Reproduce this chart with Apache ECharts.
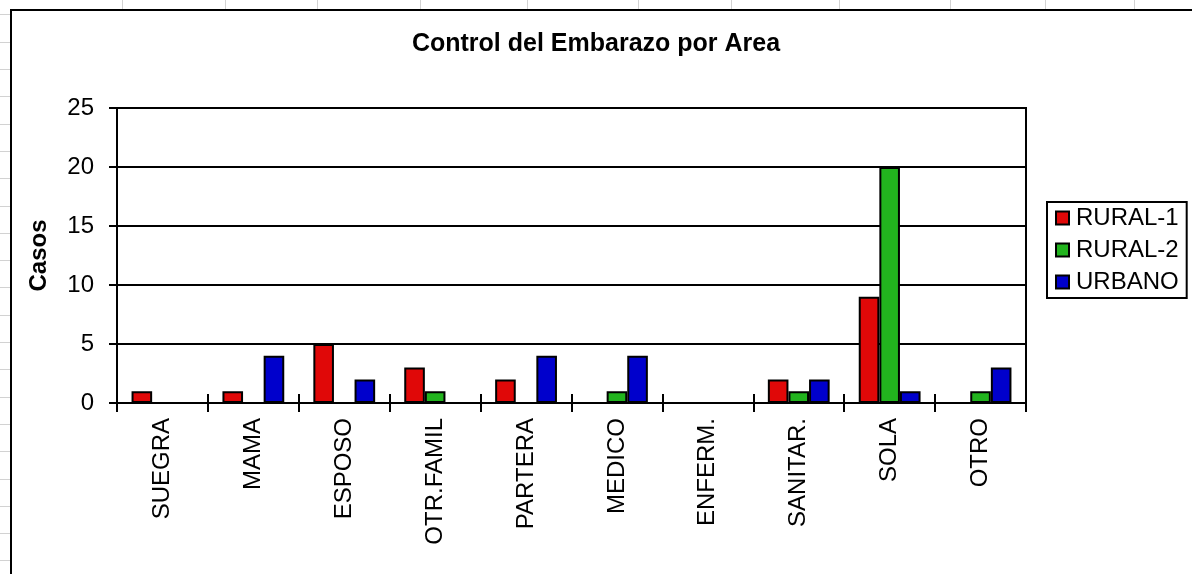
<!DOCTYPE html>
<html>
<head>
<meta charset="utf-8">
<title>Control del Embarazo por Area</title>
<script src="https://cdn.jsdelivr.net/npm/echarts@6/dist/echarts.min.js"></script>
<style>
  html, body { margin: 0; padding: 0; width: 1192px; height: 574px; overflow: hidden; background: #fff; }
  #sheet {
    position: absolute; left: 0; top: 0; width: 1192px; height: 574px;
    background-image: repeating-linear-gradient(to bottom,
      transparent 0, transparent 14.5px, #d2d2d2 14.5px, #d2d2d2 15.5px, transparent 15.5px, transparent 27.3px);
  }
  .col { position: absolute; top: 0; width: 1px; height: 10px; background: #d2d2d2; }
  #frame {
    position: absolute; left: 10px; top: 9px; width: 1300px; height: 700px;
    border: 2px solid #000; background: #fff;
  }
  #chart { position: absolute; left: 0; top: 0; width: 1192px; height: 574px; }
</style>
</head>
<body>
<div id="sheet"></div>
<div id="frame"></div>
<div id="chart"></div>
<script>
// Categories and case counts per area
const categories = ['SUEGRA', 'MAMA', 'ESPOSO', 'OTR.FAMIL', 'PARTERA', 'MEDICO', 'ENFERM.', 'SANITAR.', 'SOLA', 'OTRO'];
const rural1 = [1, 1, 5, 3, 2, 0, 0, 2, 9, 0];
const rural2 = [0, 0, 0, 1, 0, 1, 0, 1, 20, 1];
const urbano = [0, 4, 2, 0, 4, 4, 0, 2, 1, 3];
const seriesNames = ['RURAL-1', 'RURAL-2', 'URBANO'];
const yTicks = [0, 5, 10, 15, 20, 25];

// Spreadsheet column separators peeking above the chart frame
const sheetColumnsX = [122, 225, 317, 420, 527, 638, 731, 839, 950, 1045, 1134];
sheetColumnsX.forEach(function (x) {
  const d = document.createElement('div');
  d.className = 'col';
  d.style.left = x + 'px';
  document.getElementById('sheet').appendChild(d);
});

const FONT = "'Liberation Sans', Arial, Helvetica, sans-serif";
const colors = ['#E00808', '#22B41E', '#0000CC'];

const chart = echarts.init(document.getElementById('chart'), null, { renderer: 'canvas' });

function barSeries(name, data, color) {
  return {
    name: name,
    type: 'bar',
    data: data,
    xAxisIndex: 0,
    barGap: '0%',
    barCategoryGap: '32%',
    itemStyle: { color: color, borderColor: '#000', borderWidth: 2 },
    emphasis: { disabled: true }
  };
}

chart.setOption({
  animation: false,
  backgroundColor: 'transparent',
  textStyle: { fontFamily: FONT, color: '#000' },
  title: {
    text: 'Control del Embarazo por Area',
    left: 'center',
    top: 27,
    textStyle: { fontFamily: FONT, fontSize: 25, fontWeight: 'bold', color: '#000' }
  },
  legend: {
    data: seriesNames,
    orient: 'vertical',
    left: 1047,
    top: 202,
    padding: [4, 8, 4, 8],
    itemGap: 8,
    itemWidth: 13,
    itemHeight: 13,
    icon: 'rect',
    borderColor: '#000',
    borderWidth: 2,
    backgroundColor: '#fff',
    textStyle: { fontFamily: FONT, fontSize: 24, lineHeight: 24, color: '#000', padding: [0, 0, 0, 2] }
  },
  grid: {
    left: 117, right: 166, top: 108, bottom: 171,
    show: true, borderColor: '#000', borderWidth: 2, backgroundColor: 'transparent'
  },
  xAxis: [
    {
      type: 'category',
      data: categories,
      position: 'bottom',
      axisLine: { show: true, lineStyle: { color: '#000', width: 2 } },
      axisTick: { show: true, interval: 0, length: 9, lineStyle: { color: '#000', width: 2 } },
      axisLabel: { interval: 0, rotate: 90, margin: 15, fontFamily: FONT, fontSize: 24, color: '#000' },
      splitLine: { show: false }
    },
    {
      type: 'category',
      data: categories,
      position: 'bottom',
      axisLine: { show: false },
      axisTick: { show: true, inside: true, interval: 0, length: 9, lineStyle: { color: '#000', width: 2 } },
      axisLabel: { show: false },
      splitLine: { show: false }
    }
  ],
  yAxis: {
    type: 'value',
    min: yTicks[0],
    max: yTicks[yTicks.length - 1],
    interval: yTicks[1] - yTicks[0],
    name: 'Casos',
    nameLocation: 'middle',
    nameGap: 66,
    nameTextStyle: { fontFamily: FONT, fontSize: 24, fontWeight: 'bold', color: '#000' },
    axisLine: { show: true, lineStyle: { color: '#000', width: 2 } },
    axisTick: { show: true, length: 8, lineStyle: { color: '#000', width: 2 } },
    axisLabel: { margin: 23, fontFamily: FONT, fontSize: 24, color: '#000' },
    splitLine: { show: true, lineStyle: { color: '#000', width: 2 } }
  },
  series: [
    barSeries(seriesNames[0], rural1, colors[0]),
    barSeries(seriesNames[1], rural2, colors[1]),
    barSeries(seriesNames[2], urbano, colors[2])
  ]
});
</script>
</body>
</html>
